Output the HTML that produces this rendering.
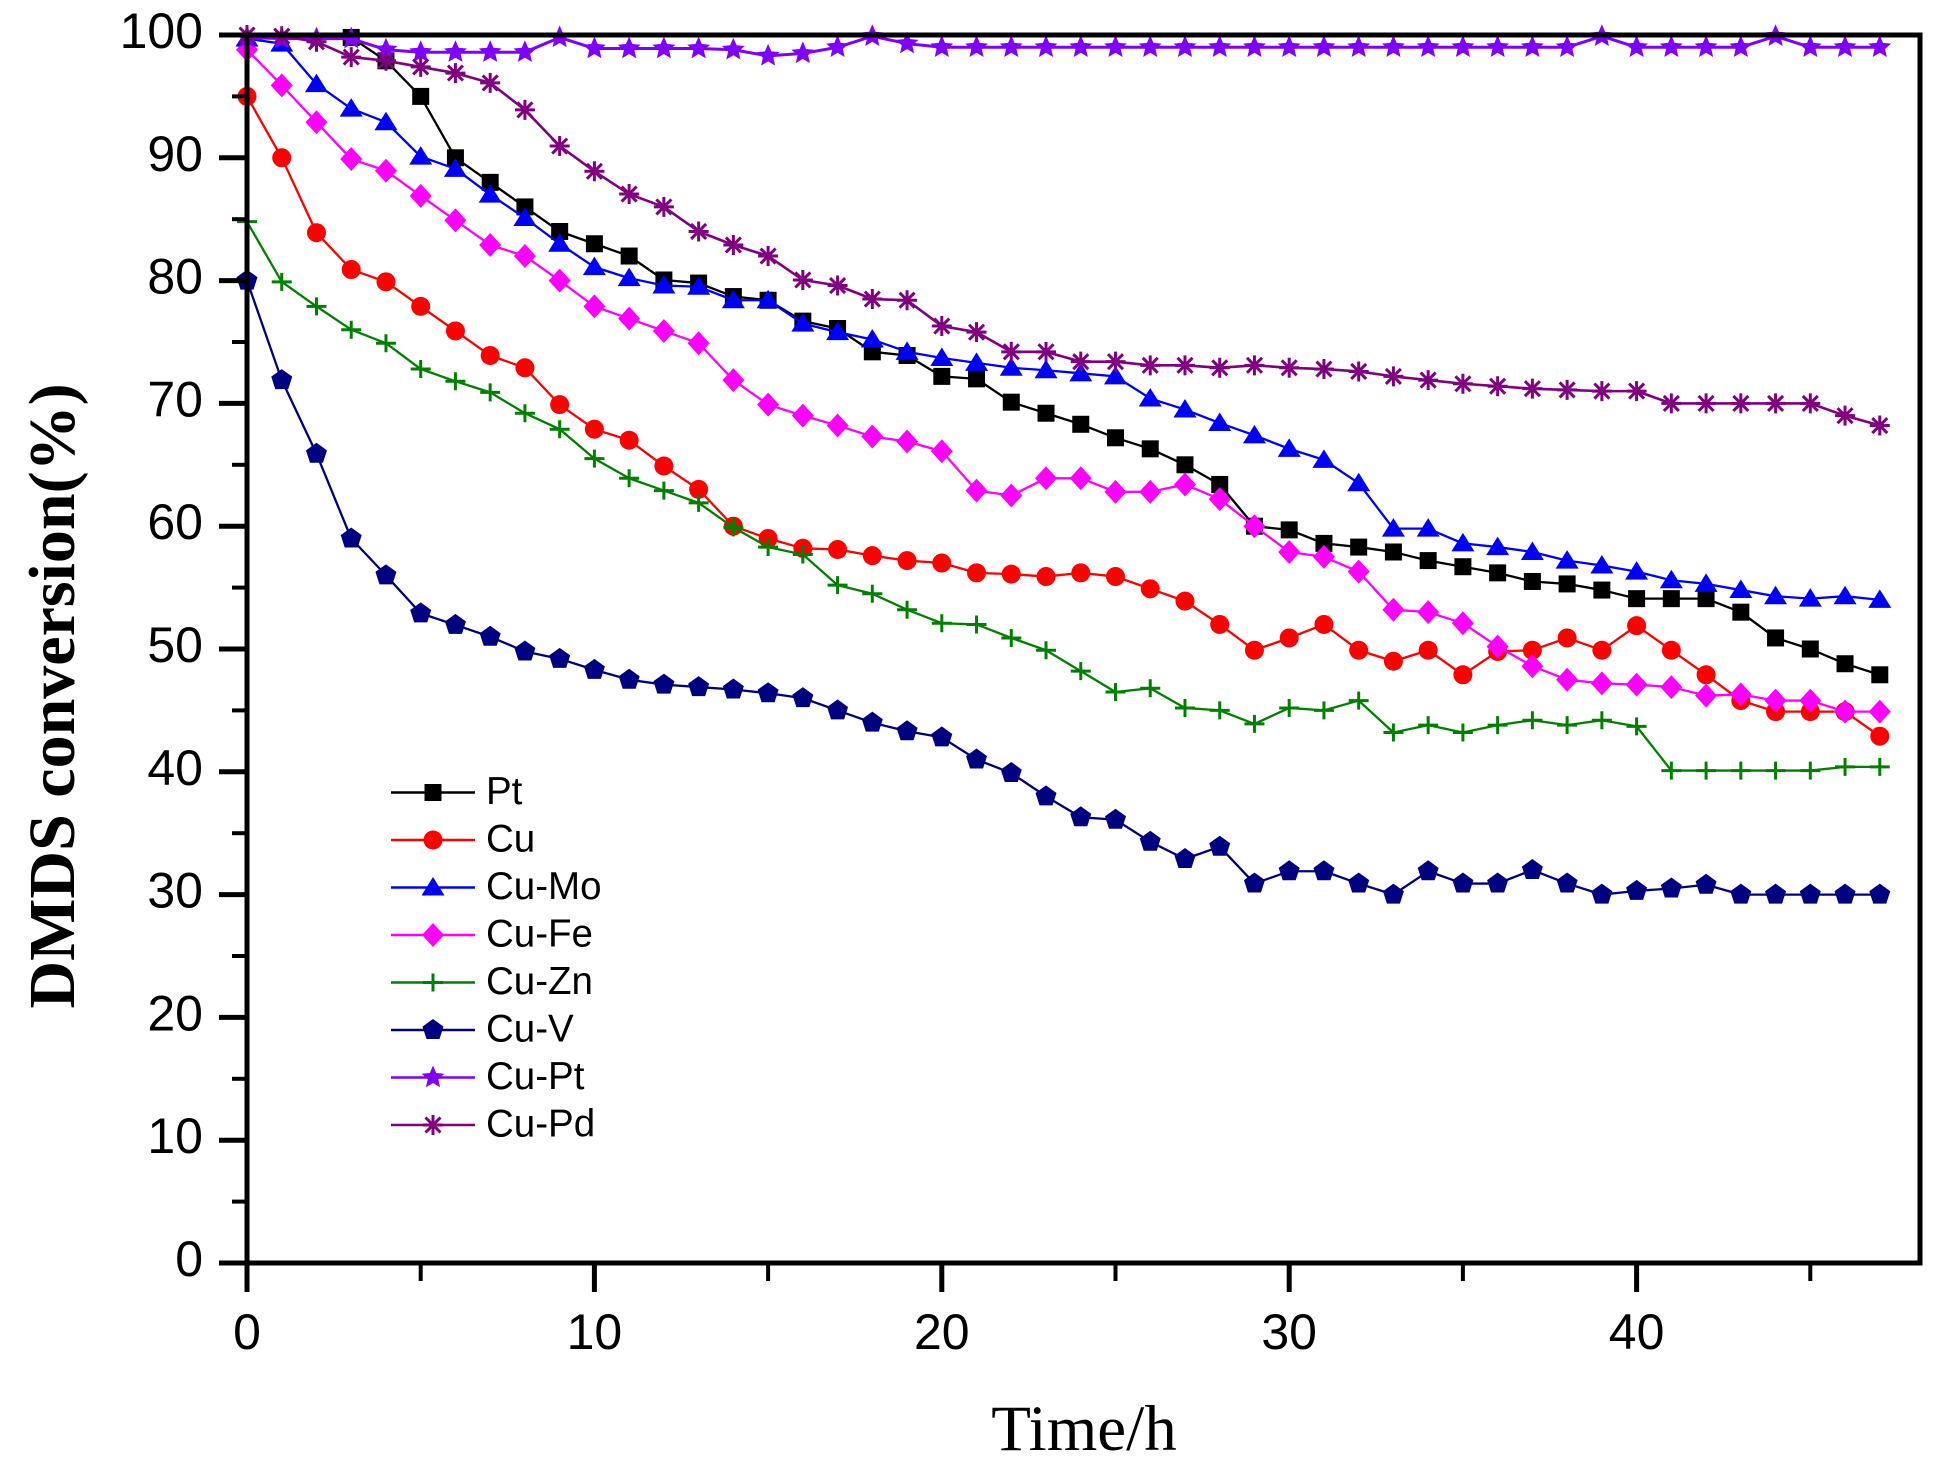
<!DOCTYPE html>
<html>
<head>
<meta charset="utf-8">
<style>
html,body{margin:0;padding:0;background:#fff;}
svg{display:block;}
</style>
</head>
<body>
<svg width="1942" height="1476" viewBox="0 0 1942 1476" xmlns="http://www.w3.org/2000/svg">
<defs>
  <rect id="pSq" x="-8.5" y="-8.5" width="17" height="17" fill="#000"/>
  <circle id="pCi" r="9.5" fill="#ff0000"/>
  <polygon id="pTr" points="0,-10.5 11.5,8 -11.5,8" fill="#0000ff"/>
  <polygon id="pDi" points="0,-12 11,0 0,12 -11,0" fill="#ff00ff"/>
  <path id="pPl" d="M-10,0H10M0,-9V9" stroke="#008000" stroke-width="3" fill="none"/>
  <polygon id="pPe" points="0,-11 10.5,-3.4 6.5,9 -6.5,9 -10.5,-3.4" fill="#000080"/>
  <polygon id="pSt" points="0,-12 3.23,-4.45 11.41,-3.71 5.23,1.7 7.05,9.71 0,5.5 -7.05,9.71 -5.23,1.7 -11.41,-3.71 -3.23,-4.45" fill="#8000ff"/>
  <path id="pAs" d="M0,-10V10M-7.5,-7.5L7.5,7.5M-7.5,7.5L7.5,-7.5M-10,0H10" stroke="#800080" stroke-width="3" fill="none"/>
  <g id="A" transform="scale(0.0287853,-0.0814332)"><use href="#pSq"/></g>
  <g id="B" transform="scale(0.0287853,-0.0814332)"><use href="#pCi"/></g>
  <g id="C" transform="scale(0.0287853,-0.0814332)"><use href="#pTr"/></g>
  <g id="D" transform="scale(0.0287853,-0.0814332)"><use href="#pDi"/></g>
  <g id="E" transform="scale(0.0287853,-0.0814332)"><use href="#pPl"/></g>
  <g id="F" transform="scale(0.0287853,-0.0814332)"><use href="#pPe"/></g>
  <g id="G" transform="scale(0.0287853,-0.0814332)"><use href="#pSt"/></g>
  <g id="H" transform="scale(0.0287853,-0.0814332)"><use href="#pAs"/></g>
</defs>

<rect x="0" y="0" width="1942" height="1476" fill="#fff"/>

<!-- Data -->
<g transform="translate(247,1263) scale(34.74,-12.28)">
  <!-- Pt -->
  <polyline fill="none" stroke="#000" stroke-width="2.3" vector-effect="non-scaling-stroke" stroke-linejoin="round"
    points="0,100 1,100 2,100 3,99.8 4,97.9 5,95 6,90 7,88 8,86 9,84 10,83 11,82 12,80.05 13,79.8 14,78.7 15,78.4 16,76.7 17,76.1 18,74.2 19,73.9 20,72.2 21,72 22,70.1 23,69.2 24,68.3 25,67.2 26,66.3 27,65 28,63.4 29,60 30,59.7 31,58.6 32,58.3 33,57.9 34,57.2 35,56.7 36,56.2 37,55.5 38,55.3 39,54.8 40,54.1 41,54.1 42,54.1 43,53 44,50.9 45,50 46,48.8 47,47.9"/>
  <use href="#A" x="3" y="99.8"/><use href="#A" x="4" y="97.9"/><use href="#A" x="5" y="95"/><use href="#A" x="6" y="90"/><use href="#A" x="7" y="88"/><use href="#A" x="8" y="86"/><use href="#A" x="9" y="84"/>
  <use href="#A" x="10" y="83"/><use href="#A" x="11" y="82"/><use href="#A" x="12" y="80.05"/><use href="#A" x="13" y="79.8"/><use href="#A" x="14" y="78.7"/><use href="#A" x="15" y="78.4"/><use href="#A" x="16" y="76.7"/><use href="#A" x="17" y="76.1"/><use href="#A" x="18" y="74.2"/><use href="#A" x="19" y="73.9"/>
  <use href="#A" x="20" y="72.2"/><use href="#A" x="21" y="72"/><use href="#A" x="22" y="70.1"/><use href="#A" x="23" y="69.2"/><use href="#A" x="24" y="68.3"/><use href="#A" x="25" y="67.2"/><use href="#A" x="26" y="66.3"/><use href="#A" x="27" y="65"/><use href="#A" x="28" y="63.4"/><use href="#A" x="29" y="60"/>
  <use href="#A" x="30" y="59.7"/><use href="#A" x="31" y="58.6"/><use href="#A" x="32" y="58.3"/><use href="#A" x="33" y="57.9"/><use href="#A" x="34" y="57.2"/><use href="#A" x="35" y="56.7"/><use href="#A" x="36" y="56.2"/><use href="#A" x="37" y="55.5"/><use href="#A" x="38" y="55.3"/><use href="#A" x="39" y="54.8"/>
  <use href="#A" x="40" y="54.1"/><use href="#A" x="41" y="54.1"/><use href="#A" x="42" y="54.1"/><use href="#A" x="43" y="53"/><use href="#A" x="44" y="50.9"/><use href="#A" x="45" y="50"/><use href="#A" x="46" y="48.8"/><use href="#A" x="47" y="47.9"/>

  <!-- Cu -->
  <polyline fill="none" stroke="#ff0000" stroke-width="2.3" vector-effect="non-scaling-stroke" stroke-linejoin="round"
    points="0,95 1,90 2,83.9 3,80.9 4,79.9 5,77.9 6,75.9 7,73.9 8,72.9 9,69.9 10,67.9 11,67 12,64.9 13,63 14,60 15,59 16,58.2 17,58.1 18,57.6 19,57.2 20,57 21,56.2 22,56.1 23,55.9 24,56.2 25,55.9 26,54.9 27,53.9 28,52 29,49.9 30,50.9 31,52 32,49.9 33,49 34,49.9 35,47.9 36,49.8 37,49.9 38,50.9 39,49.9 40,51.9 41,49.9 42,47.9 43,45.8 44,44.9 45,44.9 46,44.9 47,42.9"/>
  <use href="#B" x="0" y="95"/><use href="#B" x="1" y="90"/><use href="#B" x="2" y="83.9"/><use href="#B" x="3" y="80.9"/><use href="#B" x="4" y="79.9"/><use href="#B" x="5" y="77.9"/><use href="#B" x="6" y="75.9"/><use href="#B" x="7" y="73.9"/><use href="#B" x="8" y="72.9"/><use href="#B" x="9" y="69.9"/>
  <use href="#B" x="10" y="67.9"/><use href="#B" x="11" y="67"/><use href="#B" x="12" y="64.9"/><use href="#B" x="13" y="63"/><use href="#B" x="14" y="60"/><use href="#B" x="15" y="59"/><use href="#B" x="16" y="58.2"/><use href="#B" x="17" y="58.1"/><use href="#B" x="18" y="57.6"/><use href="#B" x="19" y="57.2"/>
  <use href="#B" x="20" y="57"/><use href="#B" x="21" y="56.2"/><use href="#B" x="22" y="56.1"/><use href="#B" x="23" y="55.9"/><use href="#B" x="24" y="56.2"/><use href="#B" x="25" y="55.9"/><use href="#B" x="26" y="54.9"/><use href="#B" x="27" y="53.9"/><use href="#B" x="28" y="52"/><use href="#B" x="29" y="49.9"/>
  <use href="#B" x="30" y="50.9"/><use href="#B" x="31" y="52"/><use href="#B" x="32" y="49.9"/><use href="#B" x="33" y="49"/><use href="#B" x="34" y="49.9"/><use href="#B" x="35" y="47.9"/><use href="#B" x="36" y="49.8"/><use href="#B" x="37" y="49.9"/><use href="#B" x="38" y="50.9"/><use href="#B" x="39" y="49.9"/>
  <use href="#B" x="40" y="51.9"/><use href="#B" x="41" y="49.9"/><use href="#B" x="42" y="47.9"/><use href="#B" x="43" y="45.8"/><use href="#B" x="44" y="44.9"/><use href="#B" x="45" y="44.9"/><use href="#B" x="46" y="44.9"/><use href="#B" x="47" y="42.9"/>

  <!-- Cu-Mo -->
  <polyline fill="none" stroke="#0000ff" stroke-width="2.3" vector-effect="non-scaling-stroke" stroke-linejoin="round"
    points="0,99.7 1,99.3 2,96 3,94 4,92.9 5,90.1 6,89.1 7,87 8,85.1 9,83 10,81.1 11,80.2 12,79.6 13,79.5 14,78.4 15,78.4 16,76.5 17,75.8 18,75.2 19,74.2 20,73.7 21,73.3 22,72.9 23,72.7 24,72.45 25,72.2 26,70.4 27,69.5 28,68.4 29,67.4 30,66.3 31,65.4 32,63.5 33,59.8 34,59.8 35,58.6 36,58.3 37,57.9 38,57.2 39,56.8 40,56.3 41,55.6 42,55.3 43,54.8 44,54.3 45,54.1 46,54.3 47,54"/>
  <use href="#C" x="0" y="99.7"/><use href="#C" x="1" y="99.3"/><use href="#C" x="2" y="96"/><use href="#C" x="3" y="94"/><use href="#C" x="4" y="92.9"/><use href="#C" x="5" y="90.1"/><use href="#C" x="6" y="89.1"/><use href="#C" x="7" y="87"/><use href="#C" x="8" y="85.1"/><use href="#C" x="9" y="83"/>
  <use href="#C" x="10" y="81.1"/><use href="#C" x="11" y="80.2"/><use href="#C" x="12" y="79.6"/><use href="#C" x="13" y="79.5"/><use href="#C" x="14" y="78.4"/><use href="#C" x="15" y="78.4"/><use href="#C" x="16" y="76.5"/><use href="#C" x="17" y="75.8"/><use href="#C" x="18" y="75.2"/><use href="#C" x="19" y="74.2"/>
  <use href="#C" x="20" y="73.7"/><use href="#C" x="21" y="73.3"/><use href="#C" x="22" y="72.9"/><use href="#C" x="23" y="72.7"/><use href="#C" x="24" y="72.45"/><use href="#C" x="25" y="72.2"/><use href="#C" x="26" y="70.4"/><use href="#C" x="27" y="69.5"/><use href="#C" x="28" y="68.4"/><use href="#C" x="29" y="67.4"/>
  <use href="#C" x="30" y="66.3"/><use href="#C" x="31" y="65.4"/><use href="#C" x="32" y="63.5"/><use href="#C" x="33" y="59.8"/><use href="#C" x="34" y="59.8"/><use href="#C" x="35" y="58.6"/><use href="#C" x="36" y="58.3"/><use href="#C" x="37" y="57.9"/><use href="#C" x="38" y="57.2"/><use href="#C" x="39" y="56.8"/>
  <use href="#C" x="40" y="56.3"/><use href="#C" x="41" y="55.6"/><use href="#C" x="42" y="55.3"/><use href="#C" x="43" y="54.8"/><use href="#C" x="44" y="54.3"/><use href="#C" x="45" y="54.1"/><use href="#C" x="46" y="54.3"/><use href="#C" x="47" y="54"/>

  <!-- Cu-Fe -->
  <polyline fill="none" stroke="#ff00ff" stroke-width="2.3" vector-effect="non-scaling-stroke" stroke-linejoin="round"
    points="0,98.8 1,95.9 2,92.9 3,89.9 4,88.95 5,86.9 6,84.9 7,82.9 8,82 9,80 10,77.9 11,76.9 12,75.9 13,74.9 14,71.9 15,69.9 16,69 17,68.2 18,67.3 19,66.9 20,66.1 21,62.9 22,62.5 23,63.9 24,63.9 25,62.8 26,62.8 27,63.4 28,62.2 29,60 30,57.9 31,57.5 32,56.3 33,53.2 34,53 35,52.1 36,50.2 37,48.6 38,47.5 39,47.2 40,47.1 41,46.9 42,46.2 43,46.3 44,45.8 45,45.8 46,44.9 47,44.9"/>
  <use href="#D" x="0" y="98.8"/><use href="#D" x="1" y="95.9"/><use href="#D" x="2" y="92.9"/><use href="#D" x="3" y="89.9"/><use href="#D" x="4" y="88.95"/><use href="#D" x="5" y="86.9"/><use href="#D" x="6" y="84.9"/><use href="#D" x="7" y="82.9"/><use href="#D" x="8" y="82"/><use href="#D" x="9" y="80"/>
  <use href="#D" x="10" y="77.9"/><use href="#D" x="11" y="76.9"/><use href="#D" x="12" y="75.9"/><use href="#D" x="13" y="74.9"/><use href="#D" x="14" y="71.9"/><use href="#D" x="15" y="69.9"/><use href="#D" x="16" y="69"/><use href="#D" x="17" y="68.2"/><use href="#D" x="18" y="67.3"/><use href="#D" x="19" y="66.9"/>
  <use href="#D" x="20" y="66.1"/><use href="#D" x="21" y="62.9"/><use href="#D" x="22" y="62.5"/><use href="#D" x="23" y="63.9"/><use href="#D" x="24" y="63.9"/><use href="#D" x="25" y="62.8"/><use href="#D" x="26" y="62.8"/><use href="#D" x="27" y="63.4"/><use href="#D" x="28" y="62.2"/><use href="#D" x="29" y="60"/>
  <use href="#D" x="30" y="57.9"/><use href="#D" x="31" y="57.5"/><use href="#D" x="32" y="56.3"/><use href="#D" x="33" y="53.2"/><use href="#D" x="34" y="53"/><use href="#D" x="35" y="52.1"/><use href="#D" x="36" y="50.2"/><use href="#D" x="37" y="48.6"/><use href="#D" x="38" y="47.5"/><use href="#D" x="39" y="47.2"/>
  <use href="#D" x="40" y="47.1"/><use href="#D" x="41" y="46.9"/><use href="#D" x="42" y="46.2"/><use href="#D" x="43" y="46.3"/><use href="#D" x="44" y="45.8"/><use href="#D" x="45" y="45.8"/><use href="#D" x="46" y="44.9"/><use href="#D" x="47" y="44.9"/>

  <!-- Cu-Zn -->
  <polyline fill="none" stroke="#008000" stroke-width="2.3" vector-effect="non-scaling-stroke" stroke-linejoin="round"
    points="0,84.8 1,79.9 2,77.9 3,76 4,74.9 5,72.8 6,71.8 7,70.9 8,69.2 9,67.9 10,65.5 11,63.9 12,62.9 13,61.9 14,59.9 15,58.3 16,57.7 17,55.2 18,54.5 19,53.2 20,52.1 21,52 22,50.9 23,49.9 24,48.2 25,46.5 26,46.8 27,45.2 28,45 29,43.9 30,45.2 31,45 32,45.8 33,43.2 34,43.8 35,43.2 36,43.8 37,44.2 38,43.8 39,44.2 40,43.7 41,40.1 42,40.1 43,40.1 44,40.1 45,40.1 46,40.4 47,40.4"/>
  <use href="#E" x="0" y="84.8"/><use href="#E" x="1" y="79.9"/><use href="#E" x="2" y="77.9"/><use href="#E" x="3" y="76"/><use href="#E" x="4" y="74.9"/><use href="#E" x="5" y="72.8"/><use href="#E" x="6" y="71.8"/><use href="#E" x="7" y="70.9"/><use href="#E" x="8" y="69.2"/><use href="#E" x="9" y="67.9"/>
  <use href="#E" x="10" y="65.5"/><use href="#E" x="11" y="63.9"/><use href="#E" x="12" y="62.9"/><use href="#E" x="13" y="61.9"/><use href="#E" x="14" y="59.9"/><use href="#E" x="15" y="58.3"/><use href="#E" x="16" y="57.7"/><use href="#E" x="17" y="55.2"/><use href="#E" x="18" y="54.5"/><use href="#E" x="19" y="53.2"/>
  <use href="#E" x="20" y="52.1"/><use href="#E" x="21" y="52"/><use href="#E" x="22" y="50.9"/><use href="#E" x="23" y="49.9"/><use href="#E" x="24" y="48.2"/><use href="#E" x="25" y="46.5"/><use href="#E" x="26" y="46.8"/><use href="#E" x="27" y="45.2"/><use href="#E" x="28" y="45"/><use href="#E" x="29" y="43.9"/>
  <use href="#E" x="30" y="45.2"/><use href="#E" x="31" y="45"/><use href="#E" x="32" y="45.8"/><use href="#E" x="33" y="43.2"/><use href="#E" x="34" y="43.8"/><use href="#E" x="35" y="43.2"/><use href="#E" x="36" y="43.8"/><use href="#E" x="37" y="44.2"/><use href="#E" x="38" y="43.8"/><use href="#E" x="39" y="44.2"/>
  <use href="#E" x="40" y="43.7"/><use href="#E" x="41" y="40.1"/><use href="#E" x="42" y="40.1"/><use href="#E" x="43" y="40.1"/><use href="#E" x="44" y="40.1"/><use href="#E" x="45" y="40.1"/><use href="#E" x="46" y="40.4"/><use href="#E" x="47" y="40.4"/>

  <!-- Cu-V -->
  <polyline fill="none" stroke="#000080" stroke-width="2.3" vector-effect="non-scaling-stroke" stroke-linejoin="round"
    points="0,80 1,71.9 2,65.9 3,59 4,56 5,52.9 6,51.96 7,51 8,49.8 9,49.2 10,48.3 11,47.5 12,47.1 13,46.9 14,46.7 15,46.4 16,46 17,45 18,44 19,43.3 20,42.8 21,41 22,39.9 23,38 24,36.3 25,36.1 26,34.3 27,32.9 28,33.9 29,30.9 30,31.9 31,31.9 32,30.9 33,30 34,31.9 35,30.9 36,30.9 37,32 38,30.9 39,30 40,30.3 41,30.5 42,30.8 43,30 44,30 45,30 46,30 47,30"/>
  <use href="#F" x="0" y="80"/><use href="#F" x="1" y="71.9"/><use href="#F" x="2" y="65.9"/><use href="#F" x="3" y="59"/><use href="#F" x="4" y="56"/><use href="#F" x="5" y="52.9"/><use href="#F" x="6" y="51.96"/><use href="#F" x="7" y="51"/><use href="#F" x="8" y="49.8"/><use href="#F" x="9" y="49.2"/>
  <use href="#F" x="10" y="48.3"/><use href="#F" x="11" y="47.5"/><use href="#F" x="12" y="47.1"/><use href="#F" x="13" y="46.9"/><use href="#F" x="14" y="46.7"/><use href="#F" x="15" y="46.4"/><use href="#F" x="16" y="46"/><use href="#F" x="17" y="45"/><use href="#F" x="18" y="44"/><use href="#F" x="19" y="43.3"/>
  <use href="#F" x="20" y="42.8"/><use href="#F" x="21" y="41"/><use href="#F" x="22" y="39.9"/><use href="#F" x="23" y="38"/><use href="#F" x="24" y="36.3"/><use href="#F" x="25" y="36.1"/><use href="#F" x="26" y="34.3"/><use href="#F" x="27" y="32.9"/><use href="#F" x="28" y="33.9"/><use href="#F" x="29" y="30.9"/>
  <use href="#F" x="30" y="31.9"/><use href="#F" x="31" y="31.9"/><use href="#F" x="32" y="30.9"/><use href="#F" x="33" y="30"/><use href="#F" x="34" y="31.9"/><use href="#F" x="35" y="30.9"/><use href="#F" x="36" y="30.9"/><use href="#F" x="37" y="32"/><use href="#F" x="38" y="30.9"/><use href="#F" x="39" y="30"/>
  <use href="#F" x="40" y="30.3"/><use href="#F" x="41" y="30.5"/><use href="#F" x="42" y="30.8"/><use href="#F" x="43" y="30"/><use href="#F" x="44" y="30"/><use href="#F" x="45" y="30"/><use href="#F" x="46" y="30"/><use href="#F" x="47" y="30"/>

  <!-- Cu-Pt -->
  <polyline fill="none" stroke="#8000ff" stroke-width="3" vector-effect="non-scaling-stroke" stroke-linejoin="round"
    points="0,99.8 1,99.7 2,99.7 3,99.7 4,98.8 5,98.6 6,98.6 7,98.6 8,98.6 9,99.8 10,98.9 11,98.9 12,98.9 13,98.9 14,98.8 15,98.3 16,98.5 17,99 18,99.9 19,99.3 20,99 21,99 22,99 23,99 24,99 25,99 26,99 27,99 28,99 29,99 30,99 31,99 32,99 33,99 34,99 35,99 36,99 37,99 38,99 39,99.9 40,99 41,99 42,99 43,99 44,99.9 45,99 46,99 47,99"/>
  <use href="#G" x="0" y="99.8"/><use href="#G" x="1" y="99.7"/><use href="#G" x="2" y="99.7"/><use href="#G" x="3" y="99.7"/><use href="#G" x="4" y="98.8"/><use href="#G" x="5" y="98.6"/><use href="#G" x="6" y="98.6"/><use href="#G" x="7" y="98.6"/><use href="#G" x="8" y="98.6"/><use href="#G" x="9" y="99.8"/>
  <use href="#G" x="10" y="98.9"/><use href="#G" x="11" y="98.9"/><use href="#G" x="12" y="98.9"/><use href="#G" x="13" y="98.9"/><use href="#G" x="14" y="98.8"/><use href="#G" x="15" y="98.3"/><use href="#G" x="16" y="98.5"/><use href="#G" x="17" y="99"/><use href="#G" x="18" y="99.9"/><use href="#G" x="19" y="99.3"/>
  <use href="#G" x="20" y="99"/><use href="#G" x="21" y="99"/><use href="#G" x="22" y="99"/><use href="#G" x="23" y="99"/><use href="#G" x="24" y="99"/><use href="#G" x="25" y="99"/><use href="#G" x="26" y="99"/><use href="#G" x="27" y="99"/><use href="#G" x="28" y="99"/><use href="#G" x="29" y="99"/>
  <use href="#G" x="30" y="99"/><use href="#G" x="31" y="99"/><use href="#G" x="32" y="99"/><use href="#G" x="33" y="99"/><use href="#G" x="34" y="99"/><use href="#G" x="35" y="99"/><use href="#G" x="36" y="99"/><use href="#G" x="37" y="99"/><use href="#G" x="38" y="99"/><use href="#G" x="39" y="99.9"/>
  <use href="#G" x="40" y="99"/><use href="#G" x="41" y="99"/><use href="#G" x="42" y="99"/><use href="#G" x="43" y="99"/><use href="#G" x="44" y="99.9"/><use href="#G" x="45" y="99"/><use href="#G" x="46" y="99"/><use href="#G" x="47" y="99"/>

  <!-- Cu-Pd -->
  <polyline fill="none" stroke="#800080" stroke-width="2.6" vector-effect="non-scaling-stroke" stroke-linejoin="round"
    points="0,100 1,99.9 2,99.45 3,98.2 4,97.9 5,97.4 6,96.9 7,96.1 8,93.9 9,90.96 10,88.9 11,87.05 12,86 13,84 14,82.9 15,82 16,80.05 17,79.6 18,78.5 19,78.4 20,76.3 21,75.8 22,74.2 23,74.2 24,73.4 25,73.4 26,73.1 27,73.1 28,72.9 29,73.1 30,72.9 31,72.8 32,72.6 33,72.2 34,71.9 35,71.6 36,71.4 37,71.2 38,71.1 39,71 40,71 41,70 42,70 43,70 44,70 45,70 46,69 47,68.2"/>
  <use href="#H" x="0" y="100"/><use href="#H" x="1" y="99.9"/><use href="#H" x="2" y="99.45"/><use href="#H" x="3" y="98.2"/><use href="#H" x="4" y="97.9"/><use href="#H" x="5" y="97.4"/><use href="#H" x="6" y="96.9"/><use href="#H" x="7" y="96.1"/><use href="#H" x="8" y="93.9"/><use href="#H" x="9" y="90.96"/>
  <use href="#H" x="10" y="88.9"/><use href="#H" x="11" y="87.05"/><use href="#H" x="12" y="86"/><use href="#H" x="13" y="84"/><use href="#H" x="14" y="82.9"/><use href="#H" x="15" y="82"/><use href="#H" x="16" y="80.05"/><use href="#H" x="17" y="79.6"/><use href="#H" x="18" y="78.5"/><use href="#H" x="19" y="78.4"/>
  <use href="#H" x="20" y="76.3"/><use href="#H" x="21" y="75.8"/><use href="#H" x="22" y="74.2"/><use href="#H" x="23" y="74.2"/><use href="#H" x="24" y="73.4"/><use href="#H" x="25" y="73.4"/><use href="#H" x="26" y="73.1"/><use href="#H" x="27" y="73.1"/><use href="#H" x="28" y="72.9"/><use href="#H" x="29" y="73.1"/>
  <use href="#H" x="30" y="72.9"/><use href="#H" x="31" y="72.8"/><use href="#H" x="32" y="72.6"/><use href="#H" x="33" y="72.2"/><use href="#H" x="34" y="71.9"/><use href="#H" x="35" y="71.6"/><use href="#H" x="36" y="71.4"/><use href="#H" x="37" y="71.2"/><use href="#H" x="38" y="71.1"/><use href="#H" x="39" y="71"/>
  <use href="#H" x="40" y="71"/><use href="#H" x="41" y="70"/><use href="#H" x="42" y="70"/><use href="#H" x="43" y="70"/><use href="#H" x="44" y="70"/><use href="#H" x="45" y="70"/><use href="#H" x="46" y="69"/><use href="#H" x="47" y="68.2"/>
</g>

<!-- Axes frame -->
<rect x="247" y="35" width="1673" height="1228" fill="none" stroke="#000" stroke-width="5"/>

<!-- Y ticks -->
<g stroke="#000" stroke-width="5">
  <line x1="219" y1="1263" x2="247" y2="1263"/>
  <line x1="219" y1="1140.2" x2="247" y2="1140.2"/>
  <line x1="219" y1="1017.4" x2="247" y2="1017.4"/>
  <line x1="219" y1="894.6" x2="247" y2="894.6"/>
  <line x1="219" y1="771.8" x2="247" y2="771.8"/>
  <line x1="219" y1="649" x2="247" y2="649"/>
  <line x1="219" y1="526.2" x2="247" y2="526.2"/>
  <line x1="219" y1="403.4" x2="247" y2="403.4"/>
  <line x1="219" y1="280.6" x2="247" y2="280.6"/>
  <line x1="219" y1="157.8" x2="247" y2="157.8"/>
  <line x1="219" y1="35" x2="247" y2="35"/>
</g>
<g stroke="#000" stroke-width="4">
  <line x1="232" y1="1201.6" x2="247" y2="1201.6"/>
  <line x1="232" y1="1078.8" x2="247" y2="1078.8"/>
  <line x1="232" y1="956" x2="247" y2="956"/>
  <line x1="232" y1="833.2" x2="247" y2="833.2"/>
  <line x1="232" y1="710.4" x2="247" y2="710.4"/>
  <line x1="232" y1="587.6" x2="247" y2="587.6"/>
  <line x1="232" y1="464.8" x2="247" y2="464.8"/>
  <line x1="232" y1="342" x2="247" y2="342"/>
  <line x1="232" y1="219.2" x2="247" y2="219.2"/>
  <line x1="232" y1="96.4" x2="247" y2="96.4"/>
</g>

<!-- X ticks -->
<g stroke="#000" stroke-width="5">
  <line x1="247" y1="1263" x2="247" y2="1292"/>
  <line x1="594.4" y1="1263" x2="594.4" y2="1292"/>
  <line x1="941.8" y1="1263" x2="941.8" y2="1292"/>
  <line x1="1289.2" y1="1263" x2="1289.2" y2="1292"/>
  <line x1="1636.6" y1="1263" x2="1636.6" y2="1292"/>
</g>
<g stroke="#000" stroke-width="4">
  <line x1="420.7" y1="1263" x2="420.7" y2="1281"/>
  <line x1="768.1" y1="1263" x2="768.1" y2="1281"/>
  <line x1="1115.5" y1="1263" x2="1115.5" y2="1281"/>
  <line x1="1462.9" y1="1263" x2="1462.9" y2="1281"/>
  <line x1="1810.3" y1="1263" x2="1810.3" y2="1281"/>
</g>

<!-- Y tick labels -->
<g font-family="'Liberation Sans', Arial, sans-serif" font-size="50" fill="#000" text-anchor="end">
  <text x="203" y="1276">0</text>
  <text x="203" y="1153.2">10</text>
  <text x="203" y="1030.4">20</text>
  <text x="203" y="907.6">30</text>
  <text x="203" y="784.8">40</text>
  <text x="203" y="662">50</text>
  <text x="203" y="539.2">60</text>
  <text x="203" y="416.4">70</text>
  <text x="203" y="293.6">80</text>
  <text x="203" y="170.8">90</text>
  <text x="203" y="48">100</text>
</g>

<!-- X tick labels -->
<g font-family="'Liberation Sans', Arial, sans-serif" font-size="50" fill="#000" text-anchor="middle">
  <text x="247" y="1349">0</text>
  <text x="594.4" y="1349">10</text>
  <text x="941.8" y="1349">20</text>
  <text x="1289.2" y="1349">30</text>
  <text x="1636.6" y="1349">40</text>
</g>

<!-- Axis titles -->
<text x="1084" y="1450" font-family="'Liberation Serif', 'Times New Roman', serif" font-size="65" text-anchor="middle" fill="#000">Time/h</text>
<text transform="translate(74,696) rotate(-90)" font-family="'Liberation Serif', 'Times New Roman', serif" font-size="66" font-weight="bold" text-anchor="middle" fill="#000">DMDS conversion(%)</text>

<!-- Legend -->
<g stroke-width="2.5">
  <line x1="391" y1="792.5" x2="475" y2="792.5" stroke="#000"/>
  <line x1="391" y1="840" x2="475" y2="840" stroke="#ff0000"/>
  <line x1="391" y1="887.5" x2="475" y2="887.5" stroke="#0000ff"/>
  <line x1="391" y1="935" x2="475" y2="935" stroke="#ff00ff"/>
  <line x1="391" y1="982.5" x2="475" y2="982.5" stroke="#008000"/>
  <line x1="391" y1="1030" x2="475" y2="1030" stroke="#000080"/>
  <line x1="391" y1="1077.5" x2="475" y2="1077.5" stroke="#8000ff"/>
  <line x1="391" y1="1125" x2="475" y2="1125" stroke="#800080"/>
</g>
<use href="#pSq" x="433" y="792.5"/>
<use href="#pCi" x="433" y="840"/>
<use href="#pTr" x="433" y="887.5"/>
<use href="#pDi" x="433" y="935"/>
<use href="#pPl" x="433" y="982.5"/>
<use href="#pPe" x="433" y="1030"/>
<use href="#pSt" x="433" y="1077.5"/>
<use href="#pAs" x="433" y="1125"/>
<g font-family="'Liberation Sans', Arial, sans-serif" font-size="38.5" fill="#000">
  <text x="486" y="804">Pt</text>
  <text x="486" y="851.5">Cu</text>
  <text x="486" y="899">Cu-Mo</text>
  <text x="486" y="946.5">Cu-Fe</text>
  <text x="486" y="994">Cu-Zn</text>
  <text x="486" y="1041.5">Cu-V</text>
  <text x="486" y="1089">Cu-Pt</text>
  <text x="486" y="1136.5">Cu-Pd</text>
</g>
</svg>
</body>
</html>
